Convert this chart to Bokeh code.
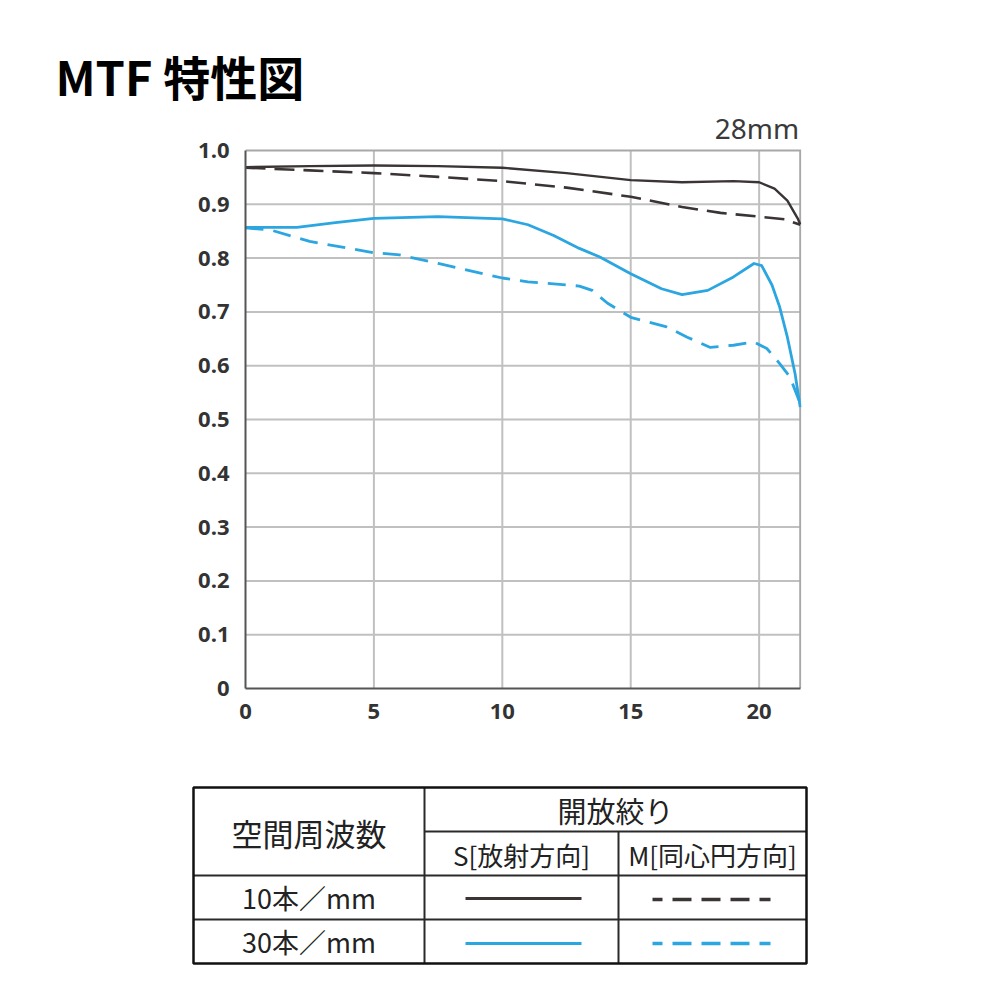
from bokeh.plotting import figure
from bokeh.models import Range1d, FixedTicker
from bokeh.layouts import column
from bokeh.embed import file_html
from bokeh.resources import INLINE
from bokeh.core.properties import value

# ---------------- data ----------------
title_text = "MTF 特性図"
lens_label = "28mm"

x_ticks = [0, 5, 10, 15, 20]
y_ticks = [0, 0.1, 0.2, 0.3, 0.4, 0.5, 0.6, 0.7, 0.8, 0.9, 1.0]
y_tick_labels = ["0", "0.1", "0.2", "0.3", "0.4", "0.5", "0.6", "0.7", "0.8", "0.9", "1.0"]
x_max = 21.6
y_max = 1.0

# 10 lines/mm, sagittal (solid black)
s10_x = [0, 2.5, 5, 7.5, 10, 12.5, 15, 17, 19, 20, 20.6, 21.1, 21.5, 21.6]
s10_y = [0.969, 0.971, 0.972, 0.971, 0.968, 0.958, 0.945, 0.941, 0.943, 0.941, 0.929, 0.907, 0.874, 0.863]

# 10 lines/mm, meridional (dashed black)
m10_x = [0, 2.5, 5, 7.5, 10, 12.5, 15, 17, 18.5, 20, 21, 21.6]
m10_y = [0.968, 0.963, 0.958, 0.951, 0.943, 0.931, 0.914, 0.895, 0.884, 0.877, 0.872, 0.862]

# 30 lines/mm, sagittal (solid blue)
s30_x = [0, 2, 3.5, 5, 7.5, 10, 11, 12, 13, 13.8, 15, 16.2, 17, 18, 19, 19.8, 20.1, 20.5, 20.8, 21.1, 21.4, 21.6]
s30_y = [0.857, 0.857, 0.866, 0.874, 0.877, 0.873, 0.862, 0.842, 0.818, 0.802, 0.771, 0.743, 0.732, 0.740, 0.765, 0.790, 0.786, 0.750, 0.709, 0.653, 0.585, 0.523]

# 30 lines/mm, meridional (dashed blue)
m30_x = [0, 1, 2.5, 5, 6, 7.5, 10, 11, 12, 13, 13.5, 14.1, 15, 16.4, 17.2, 18.1, 19, 19.8, 20.3, 20.8, 21.2, 21.6]
m30_y = [0.856, 0.852, 0.831, 0.810, 0.806, 0.790, 0.763, 0.756, 0.752, 0.748, 0.740, 0.716, 0.690, 0.672, 0.653, 0.634, 0.638, 0.644, 0.632, 0.604, 0.579, 0.530]

# legend table texts
tbl_freq_header = "空間周波数"
tbl_aperture = "開放絞り"
tbl_s = "S[放射方向]"
tbl_m = "M[同心円方向]"
tbl_rows = ["10本／mm", "30本／mm"]

BLACK = "#3b3434"
BLUE = "#2ba6e0"
TXT = "#222222"
GRID = "#c0c0c0"
BORDER = "#a8a8a8"
CJK = "Noto Sans CJK JP"
W = 992

# ---------------- header (title) ----------------
HH = 110
h = figure(width=W, height=HH, output_backend="svg", toolbar_location=None,
           x_range=Range1d(0, W), y_range=Range1d(HH, 0), min_border=0, frame_align=False)
h.axis.visible = False
h.grid.visible = False
h.outline_line_color = None
h.text(x=[55], y=[75], text=[title_text], text_font=value(CJK), text_font_style="bold",
       text_font_size="47px", text_color="black", text_align="left", text_baseline="middle")

# ---------------- chart ----------------
PX_PER_UNIT = 538          # frame height for y 0..1
EXTRA_TOP = 37             # room above y=1.0 for the focal-length label
y_end = y_max + EXTRA_TOP / PX_PER_UNIT
p = figure(width=W, height=3 + PX_PER_UNIT + EXTRA_TOP + 80, output_backend="svg",
           toolbar_location=None, frame_align=False,
           x_range=Range1d(0, 21.65), y_range=Range1d(0, y_end),
           min_border_left=245, min_border_right=W - 801, min_border_top=3, min_border_bottom=80)
p.background_fill_color = "white"
p.border_fill_color = "white"
p.outline_line_color = None
p.grid.visible = False

for ax in (p.xaxis, p.yaxis):
    ax.major_tick_in = 0
    ax.major_tick_out = 0
    ax.minor_tick_in = 0
    ax.minor_tick_out = 0
    ax.axis_line_color = "#555555"
    ax.axis_line_width = 2
    ax.major_label_text_font = "Open Sans"
    ax.major_label_text_font_size = "22px"
    ax.major_label_text_color = "#333333"
    ax.major_label_text_font_style = "bold"
p.xaxis.ticker = FixedTicker(ticks=x_ticks)
p.yaxis.ticker = FixedTicker(ticks=y_ticks)
p.yaxis.major_label_overrides = {t: l for t, l in zip(y_ticks, y_tick_labels)}
p.xaxis.major_label_standoff = 15
p.yaxis.major_label_standoff = 16
p.xaxis.bounds = (0, x_max)
p.yaxis.bounds = (0, y_max)

# grid lines (restricted to the 0..1 / 0..x_max box)
gx = x_ticks[1:]
p.segment(x0=gx, y0=[0] * len(gx), x1=gx, y1=[y_max] * len(gx), line_color=GRID, line_width=2)
gy = y_ticks[1:-1]
p.segment(x0=[0] * len(gy), y0=gy, x1=[x_max] * len(gy), y1=gy, line_color=GRID, line_width=2)
# top and right border of the plot box
p.line([0, x_max, x_max], [y_max, y_max, 0], line_color=BORDER, line_width=2, line_join="miter")

p.line(m30_x, m30_y, line_color=BLUE, line_width=2.8, line_dash="18 10", line_join="round")
p.line(s30_x, s30_y, line_color=BLUE, line_width=2.8, line_join="round")
p.line(m10_x, m10_y, line_color=BLACK, line_width=2.6, line_dash="20 9", line_join="round")
p.line(s10_x, s10_y, line_color=BLACK, line_width=2.4, line_join="round")

p.text(x=[21.56], y=[1.041], text=[lens_label], text_font=value("Noto Sans"),
       text_font_size="28px", text_color="#3a3a3a", text_align="right", text_baseline="middle")

# ---------------- legend table ----------------
TH = 224
t = figure(width=W, height=TH, output_backend="svg", toolbar_location=None,
           x_range=Range1d(0, W), y_range=Range1d(TH, 0), min_border=0, frame_align=False)
t.axis.visible = False
t.grid.visible = False
t.outline_line_color = None
t.background_fill_color = "white"
t.border_fill_color = "white"

L, C1, C2, R = 193, 424, 618, 806
T, H1, H2, H3, B = 19, 63, 107, 151, 195

t.segment(x0=[C1, C1, C2, L, L], y0=[T, H1, H1, H2, H3],
          x1=[C1, R, C2, R, R], y1=[B, H1, B, H2, H3],
          line_color="#2a2a2a", line_width=2)
t.quad(left=[L], right=[R], top=[T], bottom=[B], fill_color=None,
       line_color="#111111", line_width=2.5)

def txt(x, y, s, size):
    t.text(x=[x], y=[y], text=[s], text_font=value(CJK), text_font_size=size,
           text_color=TXT, text_align="center", text_baseline="middle")

txt((L + C1) / 2, (T + H2) / 2 + 1, tbl_freq_header, "31px")
txt((C1 + R) / 2, (T + H1) / 2, tbl_aperture, "29px")
txt((C1 + C2) / 2, (H1 + H2) / 2 + 1, tbl_s, "26px")
txt((C2 + R) / 2, (H1 + H2) / 2 + 1, tbl_m, "26px")
txt((L + C1) / 2, (H2 + H3) / 2, tbl_rows[0], "27px")
txt((L + C1) / 2, (H3 + B) / 2, tbl_rows[1], "27px")

r1 = (H2 + H3) / 2 + 1
r2 = (H3 + B) / 2 + 2
t.line([465, 581], [r1, r1], line_color=BLACK, line_width=3)
t.line([652, 770], [r1 + 1, r1 + 1], line_color=BLACK, line_width=3.5, line_dash="19 10", line_dash_offset=9)
t.line([465, 581], [r2, r2], line_color=BLUE, line_width=3)
t.line([652, 770], [r2, r2], line_color=BLUE, line_width=3.5, line_dash="19 10", line_dash_offset=9)

layout = column(h, p, t)
open("out.html", "w").write(file_html(layout, INLINE))
